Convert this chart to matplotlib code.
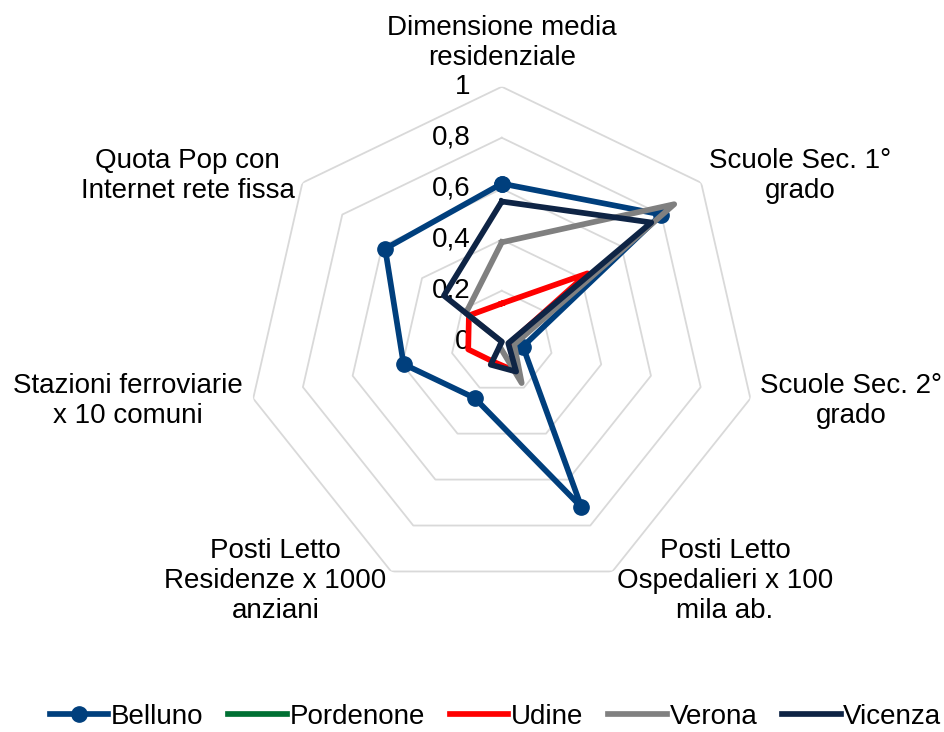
import numpy as np
import matplotlib
matplotlib.use("Agg")
import matplotlib.pyplot as plt
from matplotlib.transforms import offset_copy

plt.rcParams['font.family'] = ['Liberation Sans', 'DejaVu Sans']

# assi del radar (in senso orario, partendo dall'alto)
categorie = ['Dimensione media\nresidenziale',
             'Scuole Sec. 1°\ngrado',
             'Scuole Sec. 2°\ngrado',
             'Posti Letto\nOspedalieri x 100\nmila ab.',
             'Posti Letto\nResidenze x 1000\nanziani',
             'Stazioni ferroviarie\nx 10 comuni',
             'Quota Pop con\nInternet rete fissa']

# valori
belluno = [0.62, 0.80, 0.085, 0.72, 0.245, 0.395, 0.585]
pordenone = [np.nan] * 7   # non visibile nel grafico
udine = [0.15, 0.43, 0.03, 0.13, 0.085, 0.135, 0.165]
verona = [0.39, 0.865, 0.05, 0.18, 0.02, 0.0, 0.18]
vicenza = [0.55, 0.75, 0.026, 0.13, 0.10, 0.0, 0.29]

serie = ['Belluno', 'Pordenone', 'Udine', 'Verona', 'Vicenza']
colori = ['#003F7D', '#007033', '#FF0000', '#808080', '#0E2445']
tick_vals = [0, 0.2, 0.4, 0.6, 0.8, 1]
tick_lab = ['0', '0,2', '0,4', '0,6', '0,8', '1']

fig = plt.figure(figsize=(9.44, 7.32), dpi=100)
ax = fig.add_axes([0.2614, 0.1848, 0.5403, 0.6967], projection='polar')
ax.set_theta_offset(np.pi / 2)
ax.set_theta_direction(-1)
ax.set_ylim(0, 1)
ax.set_xticks([])
ax.set_yticks([])
ax.grid(False)
ax.spines['polar'].set_visible(False)
ax.patch.set_alpha(0)

n = len(categorie)
ang = np.linspace(0, 2 * np.pi, n, endpoint=False)
ang_c = np.append(ang, ang[0])

# griglia ettagonale
for v in tick_vals[1:]:
    ax.plot(ang_c, [v] * (n + 1), color='#D9D9D9', lw=1.3, zorder=1)

# etichette dei valori
tr = offset_copy(ax.transData, fig=fig, x=-31, y=0, units='dots')
for v, lab in zip(tick_vals, tick_lab):
    ax.text(0, v, lab, transform=tr, ha='right', va='center', fontsize=20, zorder=2)

# etichette delle categorie
for a, c in zip(ang, categorie):
    deg = np.degrees(a)
    r = 1.04
    if deg < 1:
        ha, va = 'center', 'bottom'
        r = 1.06
    elif deg < 180:
        ha, va = 'left', 'center'
    else:
        ha, va = 'right', 'center'
    ax.text(a, r, c, ha=ha, va=va, multialignment='center',
            fontsize=20, linespacing=1.2)

valori = [belluno, pordenone, udine, verona, vicenza]
for nome, vals, col in zip(serie, valori, colori):
    v = np.append(vals, vals[0])
    if nome == 'Belluno':
        ax.plot(ang_c, v, color=col, lw=4.1, marker='o', ms=11,
                label=nome, zorder=3)
    else:
        ax.plot(ang_c, v, color=col, lw=4.1, label=nome, zorder=3)

fig.legend(loc='center', bbox_to_anchor=(0.525, 0.021), ncol=5, frameon=False,
           fontsize=20, handlelength=2.1, handletextpad=0.1, columnspacing=0.9)

fig.savefig('out.png', dpi=100)
